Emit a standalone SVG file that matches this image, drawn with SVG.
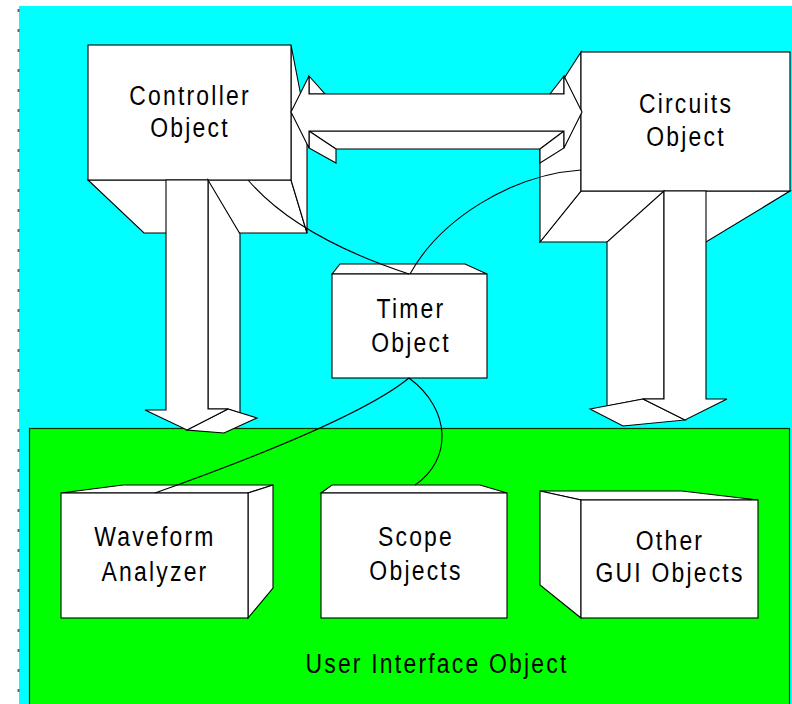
<svg xmlns="http://www.w3.org/2000/svg" width="792" height="704" viewBox="0 0 792 704">
  <style>
    .face { fill: #ffffff; stroke: #000000; stroke-width: 1.1; stroke-linejoin: miter; }
    .label { font-family: "Liberation Sans", Arial, sans-serif; font-size: 27px; fill: #000000; text-anchor: middle; letter-spacing: 2.6px; }
    .wire { fill: none; stroke: #000000; stroke-width: 1.1; }
  </style>

  <!-- page background and margin guide -->
  <rect x="19" y="6" width="773" height="698" fill="#00ffff"/>
  <line x1="18.5" y1="9" x2="18.5" y2="704" stroke="#666666" stroke-width="2" stroke-dasharray="3 17"/>

  <!-- container: user interface layer -->
  <g id="user-interface">
    <rect x="29.5" y="428.5" width="760" height="290" fill="#00ff00" stroke="#003300" stroke-width="1.2"/>
    <text class="label" transform="translate(437,673) scale(0.85,1)">User Interface Object</text>
  </g>

  <!-- Controller box -->
  <g id="controller">
    <polygon class="face" points="88,180 291,180 307,233 144,233"/>
    <polygon class="face" points="291,45 307,127 307,233 291,180"/>
    <rect class="face" x="88" y="45" width="203" height="135"/>
    <text class="label" transform="translate(190,105) scale(0.85,1)">Controller</text>
    <text class="label" transform="translate(190,137) scale(0.85,1)">Object</text>
  </g>

  <!-- Circuits box -->
  <g id="circuits">
    <polygon class="face" points="581,191 790,191 706,242 540,242"/>
    <polygon class="face" points="581,52 540,116 540,242 581,191"/>
    <rect class="face" x="581" y="52" width="209" height="139"/>
    <text class="label" transform="translate(686,113) scale(0.85,1)">Circuits</text>
    <text class="label" transform="translate(686,146) scale(0.85,1)">Object</text>
  </g>

  <!-- Timer box -->
  <g id="timer">
    <polygon class="face" points="332,274 340,264 465,264 487,274"/>
    <rect class="face" x="332" y="274" width="155" height="104"/>
    <text class="label" transform="translate(411,318) scale(0.85,1)">Timer</text>
    <text class="label" transform="translate(411,352) scale(0.85,1)">Object</text>
  </g>

  <!-- Waveform Analyzer box -->
  <g id="waveform">
    <polygon class="face" points="61,493 123,485 273,485 248,493"/>
    <polygon class="face" points="248,493 273,485 273,588 248,618"/>
    <rect class="face" x="61" y="493" width="187" height="125"/>
    <text class="label" transform="translate(155,546) scale(0.85,1)">Waveform</text>
    <text class="label" transform="translate(155,581) scale(0.85,1)">Analyzer</text>
  </g>

  <!-- Scope Objects box -->
  <g id="scope">
    <polygon class="face" points="321,493 332,485 480,485 507,493"/>
    <rect class="face" x="321" y="493" width="186" height="125"/>
    <text class="label" transform="translate(416,546) scale(0.85,1)">Scope</text>
    <text class="label" transform="translate(416,580) scale(0.85,1)">Objects</text>
  </g>

  <!-- Other GUI Objects box -->
  <g id="other-gui">
    <polygon class="face" points="540,491 682,491 758,500 581,500"/>
    <polygon class="face" points="540,491 581,500 581,618 540,585"/>
    <rect class="face" x="581" y="500" width="177" height="118"/>
    <text class="label" transform="translate(670,550) scale(0.85,1)">Other</text>
    <text class="label" transform="translate(670,582) scale(0.85,1)">GUI Objects</text>
  </g>

  <g id="connectors">
    <!-- two-way block arrow between Controller and Circuits -->
    <g id="controller-circuits">
      <polygon class="face" points="309,131 564,131 540,149 336,149"/>
      <polygon class="face" points="309,131 309,148 336,163 336,149"/>
      <polygon class="face" points="564,131 564,148 540,163 540,149"/>
      <polygon class="face" points="309,76 325,94 309,94"/>
      <polygon class="face" points="564,76 550,94 564,94"/>
      <polygon class="face" points="291,112 309,76 309,94 564,94 564,76 582,112 564,148 564,131 309,131 309,148"/>
    </g>

    <!-- block arrow Controller -> User Interface -->
    <g id="controller-ui">
      <polygon class="face" points="208,180 240,234 240,413 228,409 208,409"/>
      <polygon class="face" points="228,409 257,418 224,433 187,430"/>
      <polygon class="face" points="166,180 208,180 208,409 228,409 187,430 145,410 166,410"/>
    </g>

    <!-- block arrow Circuits -> User Interface -->
    <g id="circuits-ui">
      <polygon class="face" points="664,191 607,242 607,406 643,399 664,399"/>
      <polygon class="face" points="590,409 643,399 685,420 623,426"/>
      <polygon class="face" points="664,191 706,191 706,399 727,399 685,420 643,399 664,399"/>
    </g>

    <!-- timer links -->
    <path class="wire" d="M248,180 C278,215 330,248 409,274"/>
    <path class="wire" d="M581,170 C510,175 440,220 410,274"/>
    <path class="wire" d="M409,378 C370,410 270,452 155,493"/>
    <path class="wire" d="M409,378 C452,410 452,460 415,485"/>
  </g>
</svg>
